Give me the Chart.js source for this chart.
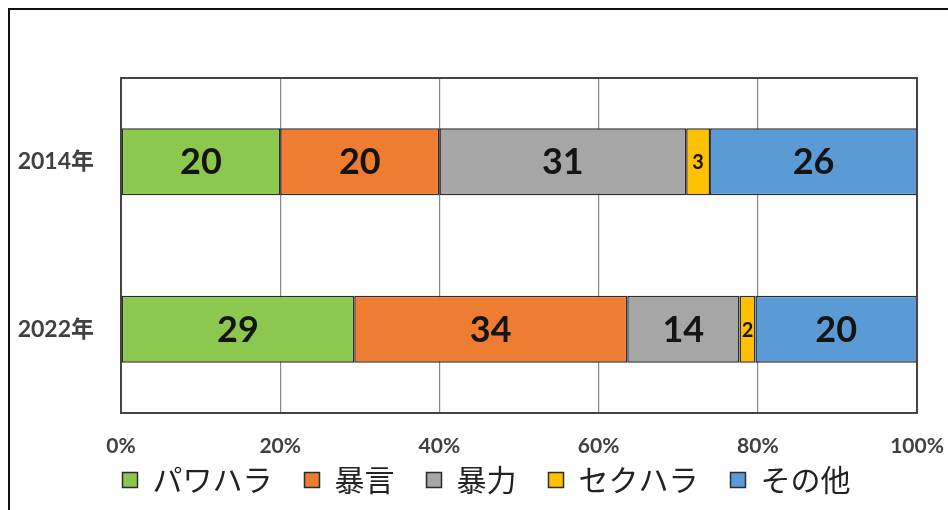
<!DOCTYPE html>
<html>
<head>
<meta charset="utf-8">
<script src="https://cdn.jsdelivr.net/npm/chart.js@4"></script>
<style>
  html, body { margin: 0; padding: 0; background: #fff; overflow: hidden; }
  #wrap { position: relative; width: 948px; height: 510px; }
  #frame { position: absolute; left: 8px; top: 8px; width: 960px; height: 560px; border: 2px solid #111; }
  canvas { position: absolute; left: 0; top: 0; }
</style>
</head>
<body>
<div id="wrap">
  <div id="frame"></div>
  <canvas id="chart" width="948" height="510"></canvas>
</div>
<script>
// data (percent of each year)
const years = ['2014年', '2022年'];
const seriesNames = ['パワハラ', '暴言', '暴力', 'セクハラ', 'その他'];
const pawahara = [20, 29.3];
const bougen = [20, 34.3];
const bouryoku = [31, 14.1];
const sekuhara = [3, 2.0];
const sonota = [26, 20.3];
const xTicks = [0, 20, 40, 60, 80, 100];

const colors = ['#8DC84E', '#EF7D31', '#A6A6A6', '#FFC000', '#5B9BD5'];
const jpFont = "Lato, 'Noto Sans CJK JP', sans-serif";

// labels inside each segment
const segmentLabels = {
  id: 'segmentLabels',
  afterDatasetsDraw(chart) {
    const ctx = chart.ctx;
    ctx.save();
    ctx.textAlign = 'center';
    ctx.textBaseline = 'middle';
    chart.data.datasets.forEach((ds, i) => {
      chart.getDatasetMeta(i).data.forEach((bar, j) => {
        const v = ds.data[j];
        const w = Math.abs(bar.x - bar.base);
        ctx.font = (w < 30 ? 'bold 20px ' : 'bold 36px ') + jpFont;
        ctx.fillStyle = '#141414';
        ctx.fillText(String(Math.round(v)), (bar.x + bar.base) / 2, bar.y + 1);
      });
    });
    ctx.restore();
  }
};

// box round the plot area
const plotBox = {
  id: 'plotBox',
  afterDraw(chart) {
    const a = chart.chartArea;
    const ctx = chart.ctx;
    ctx.save();
    ctx.strokeStyle = '#444';
    ctx.lineWidth = 2;
    ctx.strokeRect(a.left, a.top, a.right - a.left, a.bottom - a.top);
    ctx.restore();
  }
};

// the legend sits a little higher and right of where chart.js puts it
const moveLegend = {
  id: 'moveLegend',
  afterLayout(chart) {
    const lg = chart.legend;
    const h = lg.bottom - lg.top;
    lg.top = 433;
    lg.bottom = 433 + h;
    lg.left += 28;
    lg.right += 28;
  }
};

const lists = [pawahara, bougen, bouryoku, sekuhara, sonota];

new Chart(document.getElementById('chart'), {
  type: 'bar',
  data: {
    labels: years,
    datasets: seriesNames.map((name, i) => ({
      label: name,
      data: lists[i],
      backgroundColor: colors[i],
      borderColor: '#2b2b2b',
      borderWidth: 1.5,
      borderSkipped: false,
      barPercentage: 0.4,
      categoryPercentage: 1
    }))
  },
  options: {
    indexAxis: 'y',
    responsive: false,
    animation: false,
    layout: { padding: { left: 0, top: 78, right: 31, bottom: -23 } },
    scales: {
      x: {
        stacked: true,
        min: 0,
        max: 100,
        afterBuildTicks: s => { s.ticks = xTicks.map(v => ({ value: v })); },
        afterFit: s => { s.height = 48; s.paddingLeft = 0; s.paddingRight = 0; },
        grid: { color: '#888', lineWidth: 1.2, drawTicks: false },
        border: { display: false },
        ticks: {
          padding: 21,
          color: '#404040',
          font: { family: jpFont, size: 21, weight: 'bold' },
          callback: v => v + '%'
        }
      },
      y: {
        stacked: true,
        afterFit: s => { s.width = 121; },
        grid: { display: false },
        border: { display: false },
        ticks: {
          padding: 19,
          color: '#404040',
          font: { family: jpFont, size: 23, weight: 'bold' }
        }
      }
    },
    plugins: {
      legend: {
        position: 'bottom',
        labels: {
          boxWidth: 15,
          boxHeight: 15,
          padding: 32,
          color: '#222',
          font: { family: "'Noto Sans CJK JP', sans-serif", size: 30 }
        }
      },
      tooltip: { enabled: false }
    }
  },
  plugins: [segmentLabels, plotBox, moveLegend]
});
</script>
</body>
</html>
